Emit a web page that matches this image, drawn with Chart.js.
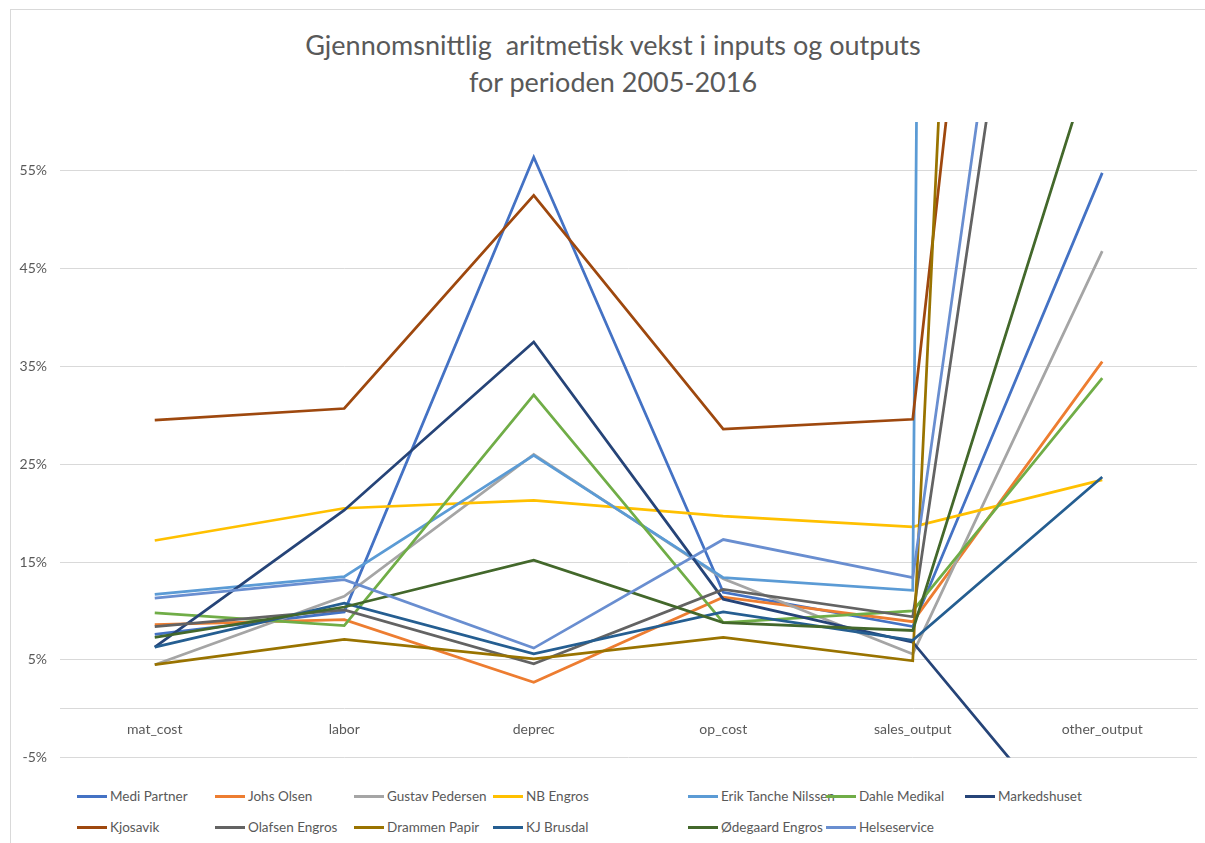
<!DOCTYPE html>
<html lang="no">
<head>
<meta charset="UTF-8">
<title>Gjennomsnittlig aritmetisk vekst i inputs og outputs</title>
<script src="https://cdn.jsdelivr.net/npm/chart.js"></script>
<style>
  html, body { margin: 0; padding: 0; background: #fff; overflow: hidden; }
  body { width: 1205px; height: 843px; position: relative; font-family: Lato, "Liberation Sans", sans-serif; }
  #frame { position: absolute; left: 10px; top: 9px; width: 1300px; height: 900px; border: 1px solid #d9d9d9; }
  #title { position: absolute; left: 11px; top: 26px; width: 1204px; text-align: center; font-size: 27px; line-height: 37px; color: #595959; white-space: pre; }
  #wrap { position: absolute; left: 11px; top: 10px; width: 1204px; height: 769px; }
  #legend { position: absolute; left: 0; top: 0; }
  .item { position: absolute; height: 20px; display: flex; align-items: center; font-size: 13.5px; color: #595959; white-space: nowrap; }
  .item i { display: inline-block; width: 30px; height: 3px; margin-right: 3px; }
</style>
</head>
<body>
<div id="frame"></div>
<div id="title"></div>
<div id="wrap"><canvas id="chart" width="1204" height="769"></canvas></div>
<div id="legend"></div>
<script>
// categories and tick values
const categories = ['mat_cost', 'labor', 'deprec', 'op_cost', 'sales_output', 'other_output'];
const yTicks = [-5, 5, 15, 25, 35, 45, 55];
const titleLines = ['Gjennomsnittlig  aritmetisk vekst i inputs og outputs', 'for perioden 2005-2016'];

const mediPartner    = [7.6, 9.9, 56.4, 11.9, 8.4, 54.8];
const johsOlsen      = [8.6, 9.1, 2.7, 11.4, 8.9, 35.5];
const gustavPedersen = [4.5, 11.5, 26.0, 13.3, 5.6, 46.8];
const nbEngros       = [17.2, 20.5, 21.3, 19.7, 18.6, 23.4];
const erikTanche     = [11.7, 13.5, 25.9, 13.4, 12.1, 2450];
const dahleMedikal   = [9.8, 8.5, 32.1, 8.8, 10.0, 33.8];
const markedshuset   = [6.3, 20.3, 37.5, 11.2, 6.8, -16.5];
const kjosavik       = [29.5, 30.7, 52.5, 28.6, 29.6, 203];
const olafsenEngros  = [8.4, 10.1, 4.6, 12.2, 9.4, 140];
const drammenPapir   = [4.5, 7.1, 5.1, 7.3, 4.9, 411];
const kjBrusdal      = [6.3, 10.8, 5.6, 9.9, 7.0, 23.7];
const odegaardEngros = [7.3, 10.4, 15.2, 8.8, 8.0, 69.7];
const helseservice   = [11.3, 13.2, 6.2, 17.3, 13.4, 151];

const names = ['Medi Partner', 'Johs Olsen', 'Gustav Pedersen', 'NB Engros', 'Erik Tanche Nilssen',
  'Dahle Medikal', 'Markedshuset', 'Kjosavik', 'Olafsen Engros', 'Drammen Papir', 'KJ Brusdal',
  'Ødegaard Engros', 'Helseservice'];
const series = [mediPartner, johsOlsen, gustavPedersen, nbEngros, erikTanche, dahleMedikal,
  markedshuset, kjosavik, olafsenEngros, drammenPapir, kjBrusdal, odegaardEngros, helseservice];
const colors = ['#4472C4', '#ED7D31', '#A5A5A5', '#FFC000', '#5B9BD5', '#70AD47',
  '#264478', '#9E480E', '#636363', '#997300', '#255E91', '#43682B', '#698ED0'];

const textColor = '#595959';
const font = 'Lato';

// title centred over the whole chart object, as excel does
document.getElementById('title').textContent = titleLines.join('\n');

// html legend, laid out in the same grid as the original
const legendCols = [77, 215, 354, 493, 688, 826, 965];
const legendRows = [796, 827];
let legend = document.getElementById('legend');
names.forEach((n, i) => {
  let row = Math.floor(i / 7), col = i % 7;
  let div = document.createElement('div');
  div.className = 'item';
  div.style.left = legendCols[col] + 'px';
  div.style.top = (legendRows[row] - 10) + 'px';
  div.innerHTML = `<i style="background:${colors[i]}"></i>${n}`;
  legend.appendChild(div);
});

let ctx = document.getElementById('chart').getContext('2d');
let chart = new Chart(ctx, {
  type: 'line',
  data: {
    labels: categories,
    datasets: names.map((n, i) => ({
      label: n,
      data: series[i],
      borderColor: colors[i],
      backgroundColor: colors[i],
      borderWidth: 2.75,
      pointRadius: 0,
      tension: 0,
      fill: false,
      order: names.length - i   // later series on top, like excel
    }))
  },
  options: {
    responsive: false,
    animation: false,
    layout: { padding: { left: 0, right: 18, top: 112, bottom: 4 } },
    plugins: {
      legend: { display: false },
      tooltip: { enabled: false },
      title: { display: false }
    },
    scales: {
      x: {
        position: { y: 0 },
        offset: true,
        grid: { display: false, drawTicks: false },
        border: { display: true, color: '#d9d9d9', width: 1 },
        ticks: { color: textColor, font: { family: font, size: 14 }, padding: 12, maxRotation: 0 },
        afterFit: s => { s.height = 0; }
      },
      y: {
        min: -5,
        max: 60,
        afterBuildTicks: s => { s.ticks = yTicks.map(v => ({ value: v })); },
        grid: { color: '#d9d9d9', lineWidth: 1, drawTicks: false },
        border: { display: false },
        ticks: { color: textColor, font: { family: font, size: 14 }, padding: 13, callback: v => v + '%' },
        afterFit: s => { s.width = 49; }
      }
    }
  }
});
</script>
</body>
</html>
